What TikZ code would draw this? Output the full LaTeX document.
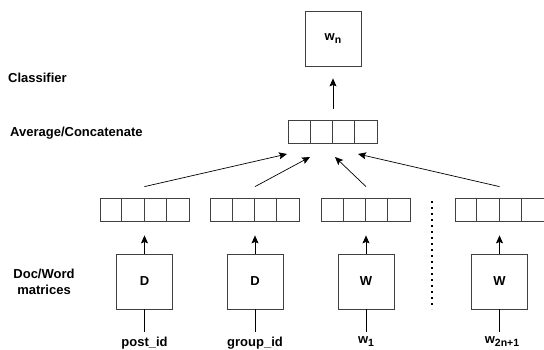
\documentclass[tikz,border=0pt]{standalone}
\usepackage{fontspec}
\setmainfont{Liberation Sans}
\usetikzlibrary{arrows.meta}
\newcommand{\lowidx}[1]{\raisebox{-0.45ex}{\fontsize{10.5}{12}\selectfont #1}}

\begin{document}
\begin{tikzpicture}[x=1pt,y=-1pt,
  txt/.style={font=\fontsize{13}{15.5}\selectfont\bfseries},
  box/.style={txt, draw=black!75, line width=0.8pt, minimum width=56pt, minimum height=55pt, inner sep=0pt},
  vec/.style={draw=black!75, line width=0.8pt, minimum width=89pt, minimum height=23pt, inner sep=0pt},
  cell/.style={draw=black!75, line width=0.8pt},
  lbl/.style={txt, inner sep=1pt},
  arr/.style={-{Stealth[length=8pt,width=7pt,inset=1.5pt]}, line width=0.7pt}]
\useasboundingbox (0,0) rectangle (544,349);

% layer names
\node [lbl, anchor=west] (cls) at (7,78) {Classifier};
\node [lbl, anchor=west] (avgname) at (9,133) {Average/Concatenate};
\node [lbl, align=center] (mat) at (44,282) {Doc/Word\\matrices};

% classifier and averaged vector
\node [box] (wn) at (333,38.5) {w\lowidx{n}};
\node [vec] (avg) at (333,132) {};
\draw [arr] ([yshift=11pt]avg.north) -- ([yshift=-12pt]wn.south);

% doc / word vectors
\node [vec] (v1) at (144.5,209.5) {};
\node [vec] (v2) at (255,209.5) {};
\node [vec] (v3) at (366,209.5) {};
\node [vec] (v4) at (499.5,209.5) {};
\foreach \v in {avg,v1,v2,v3,v4}
  \foreach \i in {1,2,3}
    \draw [cell] ([xshift=\i*22.25pt]\v.south west) -- ([xshift=\i*22.25pt]\v.north west);

% arrow tips under the averaged vector
\coordinate (t1) at (287,154);
\coordinate (t2) at (310,157);
\coordinate (t3) at (335,157);
\coordinate (t4) at (358,154);
\draw [arr] ([yshift=11pt]v1.north) -- (t1);
\draw [arr] ([yshift=11pt]v2.north) -- (t2);
\draw [arr] ([yshift=11pt]v3.north) -- (t3);
\draw [arr] ([yshift=11pt]v4.north) -- (t4);

% matrices
\node [box] (m1) at (144.5,281.5) {D};
\node [box] (m2) at (255,281.5) {D};
\node [box] (m3) at (366,281.5) {W};
\node [box] (m4) at (499.5,281.5) {W};
\draw [arr] (m1.north) -- ([yshift=-14pt]v1.south);
\draw [arr] (m2.north) -- ([yshift=-14pt]v2.south);
\draw [arr] (m3.north) -- ([yshift=-14pt]v3.south);
\draw [arr] (m4.north) -- ([yshift=-14pt]v4.south);

% inputs
\node [lbl, anchor=north] (in1) at (144.5,335.5) {post\_id};
\node [lbl, anchor=north] (in2) at (255,335.5) {group\_id};
\node [lbl, anchor=north] (in3) at (366,335.5) {w\lowidx{1}};
\node [lbl, anchor=north] (in4) at (502,335.5) {w\lowidx{2n+1}};
\draw [line width=0.7pt] (m1.south) -- ([yshift=-23pt]m1.south);
\draw [line width=0.7pt] (m2.south) -- ([yshift=-23pt]m2.south);
\draw [line width=0.7pt] (m3.south) -- ([yshift=-23pt]m3.south);
\draw [line width=0.7pt] (m4.south) -- ([yshift=-23pt]m4.south);

% gap between word vectors
\coordinate (d1) at (432,201);
\coordinate (d2) at (432,309);
\draw [line width=1.6pt, dash pattern=on 1.6pt off 4.4pt] (d1) -- (d2);
\end{tikzpicture}
\end{document}
